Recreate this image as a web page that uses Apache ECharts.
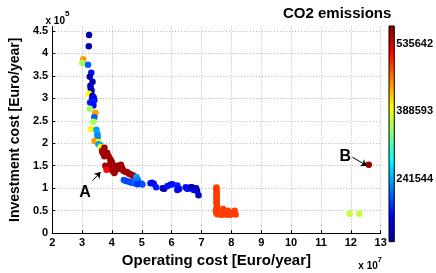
<!DOCTYPE html>
<html>
<head>
<meta charset="utf-8">
<script src="https://cdn.jsdelivr.net/npm/echarts@6/dist/echarts.min.js"></script>
<style>html,body{margin:0;padding:0;background:#fff}#chart{width:436px;height:273px}</style>
</head>
<body>
<div id="chart"></div>
<script>
const fontFam = '"Liberation Sans", Arial, sans-serif';

// [operating cost (x1e7), investment cost (x1e5), CO2 emissions]
const columnPts = [
  [3.235,4.41,112000],[3.225,4.16,115000],[3.04,3.87,445000],[3.005,3.79,355000],
  [3.20,3.75,205000],[3.31,3.57,165000],[3.26,3.48,118000],[3.35,3.37,125000],
  [3.28,3.28,115000],[3.29,3.22,130000],[3.32,3.17,120000],[3.225,3.10,400000],
  [3.35,3.05,125000],[3.39,3.02,150000],[3.34,2.99,160000],[3.41,2.96,140000],
  [3.38,2.93,175000],[3.27,2.91,180000],[3.32,2.90,170000],[3.38,2.84,165000],
  [3.26,2.77,355000],[3.45,2.68,445000],[3.43,2.65,440000],[3.41,2.58,205000],
  [3.38,2.48,360000],[3.30,2.32,400000],[3.48,2.30,235000],[3.51,2.21,240000],
  [3.52,2.17,225000],[3.52,2.11,230000],[3.50,2.07,215000],[3.42,2.05,445000],
  [3.56,2.03,400000],[3.55,1.98,235000],[3.60,1.96,240000],[3.62,1.91,400000],
  [3.675,1.84,230000]
];
const kneePts = [
  [3.75,1.90,560000],[3.675,1.82,560000],[3.69,1.79,555000],[3.73,1.75,560000],
  [3.75,1.71,560000],[3.84,1.79,560000],[3.81,1.74,560000],[3.89,1.71,560000],
  [3.95,1.64,560000],[3.97,1.61,560000],[4.00,1.57,560000],[3.95,1.55,560000],
  [3.91,1.50,560000],[3.78,1.50,560000],[3.81,1.48,555000],[3.89,1.46,560000],
  [4.06,1.46,560000],[4.17,1.50,560000],[4.13,1.43,560000],[4.22,1.43,560000],
  [4.30,1.52,560000],[4.33,1.46,560000],[4.35,1.43,560000],[4.38,1.39,560000],
  [4.46,1.36,560000],[4.50,1.36,560000],[4.57,1.32,555000],[4.60,1.32,560000],
  [4.68,1.28,560000],[4.71,1.28,560000],[4.79,1.25,560000],[4.11,1.39,560000],
  [4.00,1.41,560000],[4.02,1.39,555000],[4.08,1.34,560000],[3.95,1.45,560000],
  [3.82,1.41,515000]
];
const tailPts = [
  [4.40,1.18,195000],[4.47,1.16,200000],[4.55,1.15,190000],[4.62,1.13,200000],
  [4.68,1.12,195000],[4.75,1.11,205000],[4.82,1.25,235000],[4.86,1.20,225000],
  [4.88,1.15,215000],[4.93,1.10,200000],[4.99,1.10,190000],[5.02,1.08,200000],
  [4.85,1.09,185000],
  [5.29,1.11,170000],[5.34,1.12,160000],[5.40,1.10,165000],[5.48,1.02,175000],
  [5.70,1.00,118000],[5.75,0.985,115000],[5.72,1.00,125000],
  [5.86,1.05,170000],[5.97,1.08,165000],[6.03,1.09,170000],
  [6.19,1.06,175000],[6.19,0.96,165000],[6.25,0.98,150000],
  [6.47,1.02,170000],[6.52,0.99,160000],[6.57,0.985,175000],
  [6.63,1.02,140000],[6.68,1.02,125000],[6.72,1.00,115000],
  [6.74,0.96,150000],[6.79,0.985,120000],[6.82,1.00,140000],
  [6.85,0.94,130000],[6.90,0.84,130000]
];
const lShapePts = [
  [7.50,1.015,490000],[7.50,0.97,490000],[7.51,0.92,490000],[7.50,0.87,490000],
  [7.51,0.82,490000],[7.50,0.77,490000],[7.51,0.72,490000],[7.50,0.67,490000],
  [7.52,0.62,490000],[7.51,0.57,490000],[7.50,0.53,490000],[7.52,0.49,490000],
  [7.48,0.50,488000],[7.50,0.44,488000],[7.53,0.42,488000],[7.56,0.465,488000],
  [7.60,0.43,488000],[7.62,0.45,488000],[7.67,0.50,488000],[7.72,0.535,488000],
  [7.70,0.46,488000],[7.72,0.415,488000],[7.78,0.465,488000],[7.80,0.50,488000],
  [7.83,0.43,488000],[7.89,0.50,488000],[7.92,0.46,488000],[7.94,0.44,488000],
  [8.00,0.43,488000],[8.05,0.465,488000],[8.08,0.44,488000],[8.11,0.50,488000],
  [8.14,0.415,488000],[7.65,0.41,488000],[7.85,0.41,488000],[7.97,0.41,488000]
];
const farPts = [
  [11.96,0.43,372000],[12.28,0.43,372000],[12.6,1.52,565000]
];

const xTicks = [2,3,4,5,6,7,8,9,10,11,12,13];
const yTicks = [0,0.5,1,1.5,2,2.5,3,3.5,4,4.5];
const cMin = 103400, cMax = 575000;
const cbTicks = [241544, 388593, 535642];
const jet = ['#000090','#0000ff','#0080ff','#00ffff','#80ff80','#ffff00','#ff8000','#ff0000','#800000'];

// annotations: [label, textPos, arrowStart, arrowEnd]
const notes = [
  ['A', [3.10,0.91], [3.35,1.165], [3.62,1.36]],
  ['B', [11.81,1.71], [12.05,1.69], [12.54,1.50]]
];

const allPts = columnPts.concat(kneePts, tailPts, lShapePts, farPts);

const chart = echarts.init(document.getElementById('chart'));
const tickLabel = {color:'#000', fontWeight:'bold', fontSize:11, fontFamily:fontFam};
const grid0Split = {show:true, lineStyle:{color:'#b0b0b0', type:[1,2], width:1}};

chart.setOption({
  animation: false,
  title: {
    text: 'CO2 emissions', left: 278, top: 1,
    textStyle: {fontFamily: fontFam, fontWeight: 'bold', fontSize: 15, color: '#000'}
  },
  grid: [
    {left: 45.7, right: 55.3, top: 26.5, bottom: 31.3},
    {left: 389, top: 26, width: 11, height: 215.7}
  ],
  xAxis: [
    {
      type: 'value', min: 2, max: 13, gridIndex: 0,
      name: 'Operating cost [Euro/year]', nameLocation: 'middle', nameGap: 12,
      nameTextStyle: {fontFamily: fontFam, fontWeight: 'bold', fontSize: 15, color: '#000', verticalAlign: 'top'},
      axisLine: {onZero: false, lineStyle: {color: '#000'}},
      axisTick: {inside: true, length: 3, customValues: xTicks, lineStyle: {color: '#000'}},
      axisLabel: Object.assign({margin: 4, customValues: xTicks}, tickLabel),
      splitLine: grid0Split
    },
    {type: 'category', gridIndex: 1, data: ['cb'], show: false}
  ],
  yAxis: [
    {
      type: 'value', min: 0, max: 4.6, gridIndex: 0,
      name: 'Investment cost [Euro/year]', nameLocation: 'middle', nameGap: 20, nameRotate: 90,
      nameTextStyle: {fontFamily: fontFam, fontWeight: 'bold', fontSize: 14, color: '#000'},
      axisLine: {onZero: false, lineStyle: {color: '#000'}},
      axisTick: {inside: true, length: 3, customValues: yTicks, lineStyle: {color: '#000'}},
      axisLabel: Object.assign({margin: 4, customValues: yTicks}, tickLabel),
      splitLine: grid0Split
    },
    {
      type: 'value', gridIndex: 1, min: cMin, max: cMax, position: 'right',
      axisLine: {show: false},
      axisTick: {show: true, inside: true, length: 3, customValues: cbTicks, lineStyle: {color: '#000'}},
      axisLabel: Object.assign({margin: 2, customValues: cbTicks, formatter: v => String(v)}, tickLabel),
      splitLine: {show: false}
    }
  ],
  visualMap: {
    type: 'continuous', show: false, seriesIndex: 0, dimension: 2,
    min: cMin, max: cMax, inRange: {color: jet}
  },
  graphic: [
    {type: 'text', x: 45.5, y: 21, style: {text: 'x 10', font: 'bold 10px ' + fontFam, fill: '#000', textVerticalAlign: 'middle'}},
    {type: 'text', x: 65, y: 14, style: {text: '5', font: 'bold 8px ' + fontFam, fill: '#000', textVerticalAlign: 'middle'}},
    {type: 'text', x: 358.3, y: 266, style: {text: 'x 10', font: 'bold 10px ' + fontFam, fill: '#000', textVerticalAlign: 'middle'}},
    {type: 'text', x: 377.5, y: 260, style: {text: '7', font: 'bold 8px ' + fontFam, fill: '#000', textVerticalAlign: 'middle'}}
  ],
  series: [
    {
      type: 'scatter', data: allPts, symbolSize: 6.5,
      itemStyle: {opacity: 1}
    },
    {
      type: 'line', data: [], xAxisIndex: 0, yAxisIndex: 0,
      markLine: {
        silent: true, symbol: ['none', 'arrow'], symbolSize: 6,
        lineStyle: {color: '#000', width: 1, type: 'solid'},
        label: {show: false},
        data: notes.map(n => [{coord: n[2]}, {coord: n[3]}])
      },
      markPoint: {
        silent: true, symbol: 'circle', symbolSize: 0,
        label: {show: true, position: 'inside', formatter: p => p.name,
          fontFamily: fontFam, fontWeight: 'bold', fontSize: 16, color: '#000'},
        data: notes.map(n => ({name: n[0], coord: n[1]}))
      }
    },
    {
      type: 'custom', xAxisIndex: 1, yAxisIndex: 1,
      data: [[0, cMin, cMax]],
      renderItem: function (params, api) {
        const cs = params.coordSys;
        const p0 = api.coord([api.value(0), api.value(1)]);
        const p1 = api.coord([api.value(0), api.value(2)]);
        return {
          type: 'rect',
          shape: {x: cs.x, y: p1[1], width: cs.width, height: p0[1] - p1[1]},
          style: {
            fill: new echarts.graphic.LinearGradient(0, 1, 0, 0,
              jet.map((c, i) => ({offset: i / (jet.length - 1), color: c}))),
            stroke: '#000', lineWidth: 1
          }
        };
      }
    }
  ]
});
</script>
</body>
</html>
